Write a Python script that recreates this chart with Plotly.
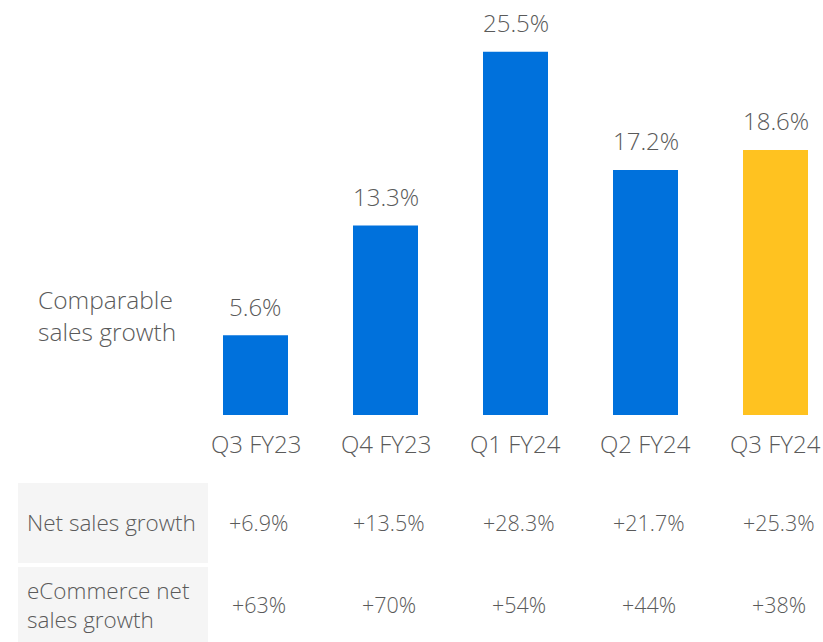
import plotly.graph_objects as go

quarters = ["Q3 FY23", "Q4 FY23", "Q1 FY24", "Q2 FY24", "Q3 FY24"]
comp_sales = [5.6, 13.3, 25.5, 17.2, 18.6]
net_sales = ["+6.9%", "+13.5%", "+28.3%", "+21.7%", "+25.3%"]
ecom_sales = ["+63%", "+70%", "+54%", "+44%", "+38%"]
row_labels = ["Net sales growth", "eCommerce net<br>sales growth"]
series_label = "Comparable<br>sales growth"

BLUE = "#0071DC"
YELLOW = "#FFC220"
GRAY = "#5a5a5a"
FONT = "Open Sans"
WT = 300

W, H = 823, 642
PX_PER_CAT = 130.0
X0_PX = 255.5
BASE_PX = 415.0
PX_PER_PCT = 14.25

xr = [-X0_PX / PX_PER_CAT, (W - X0_PX) / PX_PER_CAT]
yr = [-(H - BASE_PX) / PX_PER_PCT, BASE_PX / PX_PER_PCT]

def ypx(py):
    return (BASE_PX - py) / PX_PER_PCT

def xpx(px):
    return (px - X0_PX) / PX_PER_CAT

def f(size):
    return dict(family=FONT, size=size, color=GRAY, weight=WT)

idx = list(range(len(quarters)))
colors = [BLUE] * (len(quarters) - 1) + [YELLOW]

fig = go.Figure()
fig.add_trace(go.Bar(
    x=idx, y=comp_sales, width=0.5, marker=dict(color=colors, line=dict(width=0)),
    hoverinfo="skip",
))

annotations = []
for i, q in enumerate(quarters):
    annotations.append(dict(x=i, y=comp_sales[i], yshift=29, text=f"{comp_sales[i]}%", showarrow=False,
                            font=f(24), xanchor="center", yanchor="middle"))
    annotations.append(dict(x=i, y=ypx(443), text=q, showarrow=False,
                            font=f(24), xanchor="center", yanchor="middle"))
    annotations.append(dict(x=i, xshift=3, y=ypx(522), text=net_sales[i], showarrow=False,
                            font=f(21.5), xanchor="center", yanchor="middle"))
    annotations.append(dict(x=i, xshift=3, y=ypx(604), text=ecom_sales[i], showarrow=False,
                            font=f(21.5), xanchor="center", yanchor="middle"))

annotations.append(dict(x=xpx(36), y=ypx(315), text=series_label, showarrow=False,
                        font=f(24.5), align="left", xanchor="left", yanchor="middle"))
row_y = [522, 604.5]
for r, lab in enumerate(row_labels):
    annotations.append(dict(x=xpx(25), y=ypx(row_y[r]), text=lab, showarrow=False,
                            font=f(22.5), align="left", xanchor="left", yanchor="middle"))

shapes = [
    dict(type="rect", x0=xpx(18), x1=xpx(208), y0=ypx(483), y1=ypx(563),
         fillcolor="#f5f5f5", line=dict(width=0), layer="below"),
    dict(type="rect", x0=xpx(18), x1=xpx(208), y0=ypx(567), y1=ypx(642),
         fillcolor="#f5f5f5", line=dict(width=0), layer="below"),
]

fig.update_layout(
    width=W, height=H, margin=dict(l=0, r=0, t=0, b=0),
    plot_bgcolor="white", paper_bgcolor="white", showlegend=False,
    xaxis=dict(range=xr, visible=False, fixedrange=True),
    yaxis=dict(range=yr, visible=False, fixedrange=True),
    annotations=annotations, shapes=shapes,
)

fig.write_html("out.html", config={"displayModeBar": False},
               post_script="document.body.style.margin='0';document.body.style.overflow='hidden';")
